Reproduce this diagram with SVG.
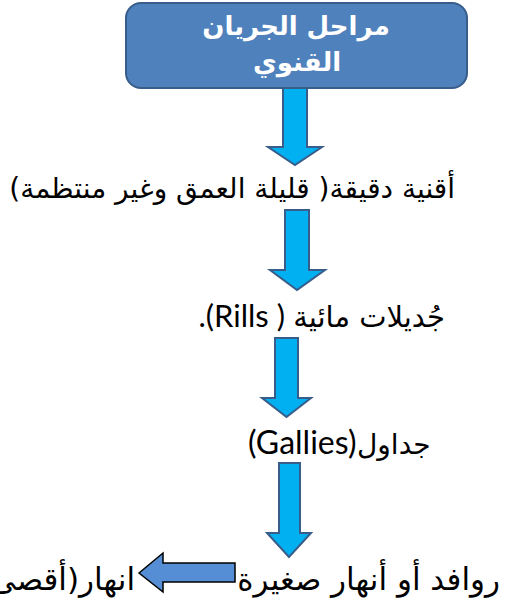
<svg xmlns="http://www.w3.org/2000/svg" width="508" height="602" viewBox="0 0 508 602">
<style>
.ar{font-family:"DejaVu Sans","Noto Sans",sans-serif;fill:#000}
.lat{font-family:Lato,"Liberation Sans",sans-serif;fill:#000}
.title{font-family:"DejaVu Sans","Noto Sans",sans-serif;font-weight:bold;fill:#fff;font-size:26px}
.down{fill:#00B0F0;stroke:#385D8A;stroke-width:2}
.left{fill:#558ED5;stroke:#000;stroke-width:1.5}
</style>
<rect width="508" height="602" fill="#fff"/>
<g id="node-title">
<rect x="126" y="3" width="341" height="85" rx="15" fill="#4F81BD" stroke="#385D8A" stroke-width="2"/>
<text class="title" x="296" y="35" text-anchor="middle" direction="rtl">مراحل الجريان</text>
<text class="title" x="297" y="71" text-anchor="middle" direction="rtl">القنوي</text>
</g>
<g id="node-channels">
<text class="ar" x="455" y="198" font-size="28" direction="rtl" text-anchor="start">أقنية دقيقة( قليلة العمق وغير منتظمة)</text>
</g>
<g id="node-rills">
<text class="ar" x="445" y="327" font-size="29" text-anchor="end">جُديلات مائية</text>
<text class="lat" x="285" y="327" font-size="31" text-anchor="end">.(Rills )</text>
</g>
<g id="node-gallies">
<text class="lat" x="248" y="454" font-size="32">(Gallies)</text>
<text class="ar" x="357" y="454" font-size="28">جداول</text>
</g>
<g id="node-tributaries">
<text class="ar" x="500" y="590" font-size="31" text-anchor="end">روافد أو أنهار صغيرة</text>
</g>
<g id="node-rivers">
<text class="ar" x="135" y="590" font-size="31" direction="rtl" text-anchor="start">انهار(أقصى</text>
</g>
<g id="connectors">
<polygon class="down" points="283,88 307,88 307,147 322,147 295,165 268,147 283,147"/>
<polygon class="down" points="285,210 309,210 309,270 325,270 297,290 270,270 285,270"/>
<polygon class="down" points="275,338 298,338 298,398 311,398 286.5,417 262,398 275,398"/>
<polygon class="down" points="279,463 300,463 300,533 311,533 289,557 267,533 279,533"/>
<polygon class="left" points="139,573 163,553 163,563 235,563 235,582 163,582 163,592"/>
</g>
</svg>
